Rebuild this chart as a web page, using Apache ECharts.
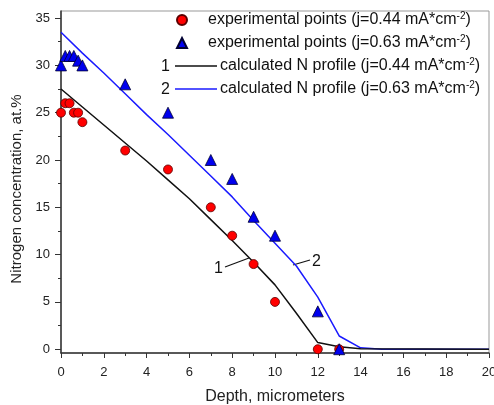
<!DOCTYPE html>
<html>
<head>
<meta charset="utf-8">
<script src="https://cdn.jsdelivr.net/npm/echarts@6/dist/echarts.min.js"></script>
<style>
  html, body { margin: 0; padding: 0; background: #fff; }
  #chart { width: 494px; height: 405px; }
</style>
</head>
<body>
<div id="chart"></div>
<script>
// measured points
const depthExp = [0, 0.2, 0.4, 0.6, 0.8, 1, 3, 5, 7, 8, 9, 10, 12, 13];
const nExp044 = [25, 26, 26, 25, 25, 24, 21, 19, 15, 12, 9, 5, 0, 0];
const nExp063 = [30, 31, 31, 31, 30.5, 30, 28, 25, 20, 18, 14, 12, 4, 0];

// calculated profiles
const depthCalc044 = [0, 1, 2, 3, 4, 5, 6, 7, 8, 9, 10, 11, 12, 13, 14, 20];
const nCalc044 = [27.5, 25.6, 23.7, 21.8, 19.9, 17.9, 15.9, 13.7, 11.5, 9.2, 6.8, 3.8, 0.7, 0.25, 0.05, 0];
const depthCalc063 = [0, 1, 2, 3, 4, 5, 6, 7, 8, 9, 10, 11, 12, 13, 14, 15, 20];
const nCalc063 = [33.5, 31.3, 29.2, 27.0, 24.8, 22.7, 20.5, 18.3, 16.1, 13.6, 11.2, 8.8, 5.5, 1.4, 0.15, 0, 0];

const yMajorTicks = [0, 5, 10, 15, 20, 25, 30, 35];
const yMinorTicks = [2.5, 7.5, 12.5, 17.5, 22.5, 27.5, 32.5];

const names = [
  "experimental points (j=0.44 mA*cm-2)",
  "experimental points (j=0.63 mA*cm-2)",
  "calculated N profile (j=0.44 mA*cm-2)",
  "calculated N profile (j=0.63 mA*cm-2)"
];

const zip = (xs, ys) => xs.map((x, i) => [x, ys[i]]);
const font = "'Liberation Sans', Arial, sans-serif";

const legendText = (padLeft) => ({
  fontFamily: font,
  fontSize: 16,
  color: "#111",
  lineHeight: 18,
  padding: [0, 0, 0, padLeft],
  rich: {
    sup: { fontFamily: font, fontSize: 10, color: "#111", verticalAlign: "top", lineHeight: 10, padding: [0, 0, 6, 0] }
  }
});
const legendFormatter = (n) => n.replace("cm-2)", "cm{sup|-2})");

const chart = echarts.init(document.getElementById("chart"));

chart.setOption({
  animation: false,
  textStyle: { fontFamily: font },
  grid: {
    left: 61, right: 5, top: 11, bottom: 52,
    outerBoundsMode: "none",
    show: true, borderColor: "#999", borderWidth: 1
  },
  legend: [
    {
      data: [names[0], names[1]],
      orient: "vertical",
      left: 176, top: 11,
      padding: 0,
      itemWidth: 10, itemHeight: 10,
      itemGap: 5,
      textStyle: legendText(16),
      formatter: legendFormatter
    },
    {
      data: [names[2], names[3]].map((n) => ({ name: n, icon: "rect" })),
      orient: "vertical",
      left: 175, top: 57,
      padding: 0,
      itemWidth: 42, itemHeight: 1.5,
      itemGap: 5,
      textStyle: legendText(-2),
      formatter: legendFormatter
    }
  ],
  xAxis: {
    type: "value",
    min: 0, max: 20, interval: 2,
    name: "Depth, micrometers",
    nameLocation: "middle",
    nameGap: 36,
    nameTextStyle: { fontSize: 16, color: "#222" },
    axisLine: { onZero: false, lineStyle: { color: "#333", width: 1.5 } },
    axisTick: { length: 5, lineStyle: { color: "#333" } },
    minorTick: { show: true, splitNumber: 2, length: 3, lineStyle: { color: "#333" } },
    axisLabel: { fontSize: 13, color: "#222", margin: 13 },
    splitLine: { show: false }
  },
  yAxis: [
    {
      type: "value",
      min: -0.4, max: 35.75,
      name: "Nitrogen concentration, at.%",
      nameLocation: "middle",
      nameGap: 35,
      nameTextStyle: { fontSize: 15, color: "#222", padding: [0, 14, 0, 0] },
      axisLine: { onZero: false, lineStyle: { color: "#333", width: 1.5 } },
      axisTick: { customValues: yMajorTicks, length: 6, lineStyle: { color: "#333" } },
      axisLabel: { customValues: yMajorTicks, fontSize: 13, color: "#222", margin: 11 },
      splitLine: { show: false }
    },
    {
      type: "value",
      position: "left",
      min: -0.4, max: 35.75,
      axisLine: { show: false, onZero: false },
      axisTick: { show: true, customValues: yMinorTicks, length: 3, lineStyle: { color: "#333" } },
      axisLabel: { show: false },
      splitLine: { show: false }
    }
  ],
  series: [
    {
      name: names[2],
      type: "line",
      data: zip(depthCalc044, nCalc044),
      showSymbol: false,
      symbol: "none",
      lineStyle: { color: "#111", width: 1.5 },
      itemStyle: { color: "#111" },
      z: 3
    },
    {
      name: names[3],
      type: "line",
      data: zip(depthCalc063, nCalc063),
      showSymbol: false,
      symbol: "none",
      lineStyle: { color: "#1a1aff", width: 1.5 },
      itemStyle: { color: "#1a1aff" },
      z: 2
    },
    {
      name: names[0],
      type: "scatter",
      data: zip(depthExp, nExp044),
      symbol: "circle",
      symbolSize: 9,
      itemStyle: { color: "#ff0000", borderColor: "#5a0000", borderWidth: 0.8, opacity: 1 },
      z: 5
    },
    {
      name: names[1],
      type: "scatter",
      data: zip(depthExp, nExp063),
      symbol: "triangle",
      symbolSize: 11,
      itemStyle: { color: "#0000ee", borderColor: "#000033", borderWidth: 0.8, opacity: 1 },
      z: 5
    }
  ],
  graphic: [
    // numbers in front of the legend lines
    { type: "text", left: 161, top: 59, style: { text: "1", font: "16px " + font, fill: "#111" } },
    { type: "text", left: 161, top: 82, style: { text: "2", font: "16px " + font, fill: "#111" } },
    // curve labels with leader lines
    { type: "text", left: 214, top: 261, style: { text: "1", font: "16px " + font, fill: "#111" } },
    { type: "line", shape: { x1: 225, y1: 267, x2: 249, y2: 258 }, style: { stroke: "#111", lineWidth: 1.2 } },
    { type: "text", left: 312, top: 254, style: { text: "2", font: "16px " + font, fill: "#111" } },
    { type: "line", shape: { x1: 293, y1: 265, x2: 310, y2: 260 }, style: { stroke: "#111", lineWidth: 1.2 } }
  ]
});

window.addEventListener("resize", () => chart.resize());
</script>
</body>
</html>
